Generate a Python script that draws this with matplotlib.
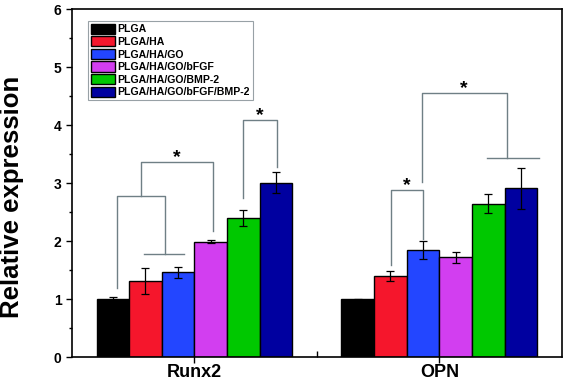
import numpy as np
import matplotlib
matplotlib.use("Agg")
import matplotlib.pyplot as plt

plt.rcParams['font.family'] = ['Liberation Sans', 'DejaVu Sans']
plt.rcParams['font.weight'] = 'bold'

######## Data
genes = ["Runx2", "OPN"]
groups = ["PLGA", "PLGA/HA", "PLGA/HA/GO", "PLGA/HA/GO/bFGF",
          "PLGA/HA/GO/BMP-2", "PLGA/HA/GO/bFGF/BMP-2"]
colors = ["#000000", "#f5162c", "#2346ff", "#d23ef0", "#00c800", "#0000a0"]

runx2_mean = [1.00, 1.31, 1.46, 1.99, 2.40, 3.01]
runx2_err = [0.03, 0.23, 0.09, 0.03, 0.13, 0.18]
opn_mean = [1.00, 1.40, 1.85, 1.72, 2.65, 2.91]
opn_err = [0.01, 0.08, 0.16, 0.10, 0.17, 0.35]

means = [runx2_mean, opn_mean]
errs = [runx2_err, opn_err]

######## Plot
fig = plt.figure(figsize=(5.67, 3.86), dpi=100)
ax = fig.add_axes([0.127, 0.0751, 0.864, 0.9003])

x = np.arange(1, len(genes) + 1)
width = 0.8 / len(groups)

for i, grp in enumerate(groups):
    pos = x + (i - (len(groups) - 1) / 2) * width
    vals = [m[i] for m in means]
    ev = [e[i] for e in errs]
    ax.bar(pos, vals, width, color=colors[i], edgecolor='black', linewidth=1.0,
           label=grp, zorder=2)
    ax.errorbar(pos, vals, yerr=ev, fmt='none', ecolor='black', elinewidth=0.9,
                capsize=3, capthick=0.9, zorder=3)

###significance brackets
br = dict(color='#6f7f85', lw=1.0, zorder=1)
# Runx2: PLGA vs (HA, HA/GO) vs bFGF
ax.plot([0.685, 0.685, 0.881, 0.881], [1.19, 2.78, 2.78, 1.77], **br)
ax.plot([0.794, 0.958], [1.77, 1.77], **br)
ax.plot([0.780, 0.780, 1.074, 1.074], [2.78, 3.36, 3.36, 2.18], **br)
ax.text(0.929, 3.30, '*', ha='center', va='bottom', fontsize=14)
# Runx2: BMP-2 vs bFGF/BMP-2
ax.plot([1.199, 1.199, 1.336, 1.336], [2.74, 4.09, 4.09, 3.28], **br)
ax.text(1.267, 4.03, '*', ha='center', va='bottom', fontsize=14)
# OPN: HA vs HA/GO
ax.plot([1.803, 1.803, 1.931, 1.931], [1.59, 2.88, 2.88, 2.03], **br)
ax.text(1.867, 2.82, '*', ha='center', va='bottom', fontsize=14)
# OPN: HA/GO vs (BMP-2, bFGF/BMP-2)
ax.plot([1.927, 1.927, 2.274, 2.274], [3.02, 4.55, 4.55, 3.43], **br)
ax.plot([2.193, 2.406], [3.43, 3.43], **br)
ax.text(2.10, 4.49, '*', ha='center', va='bottom', fontsize=14)

ax.set_xlim(0.5, 2.5)
ax.set_ylim(0, 6)
ax.set_xticks(x)
ax.set_xticklabels(genes, fontsize=13, fontweight='bold')
ax.set_xticks([1.5], minor=True)
ax.set_yticks(range(0, 7))
ax.set_yticks(np.arange(0.5, 6, 1.0), minor=True)
ax.tick_params(axis='y', labelsize=10, direction='out', length=4, width=1)
ax.tick_params(axis='y', which='minor', direction='out', length=2.5, width=1)
ax.tick_params(axis='x', direction='inout', length=8, width=1, pad=1)
ax.tick_params(axis='x', which='minor', direction='in', length=4, width=1)
for lbl in ax.get_yticklabels():
    lbl.set_fontweight('bold')
for sp in ax.spines.values():
    sp.set_linewidth(1.2)

ax.set_ylabel('Relative expression', fontsize=18.5, fontweight='bold')
ax.yaxis.set_label_coords(-0.097, 0.46)

leg = ax.legend(loc='upper left', bbox_to_anchor=(0.033, 0.968), fontsize=7.6,
                frameon=True, fancybox=False, edgecolor='#7f8a90',
                handlelength=2.2, handleheight=1.1, handletextpad=0.3,
                labelspacing=0.18, borderpad=0.3, borderaxespad=0)
leg.get_frame().set_linewidth(0.8)
for t in leg.get_texts():
    t.set_fontweight('bold')

fig.savefig('out.png', dpi=100)
